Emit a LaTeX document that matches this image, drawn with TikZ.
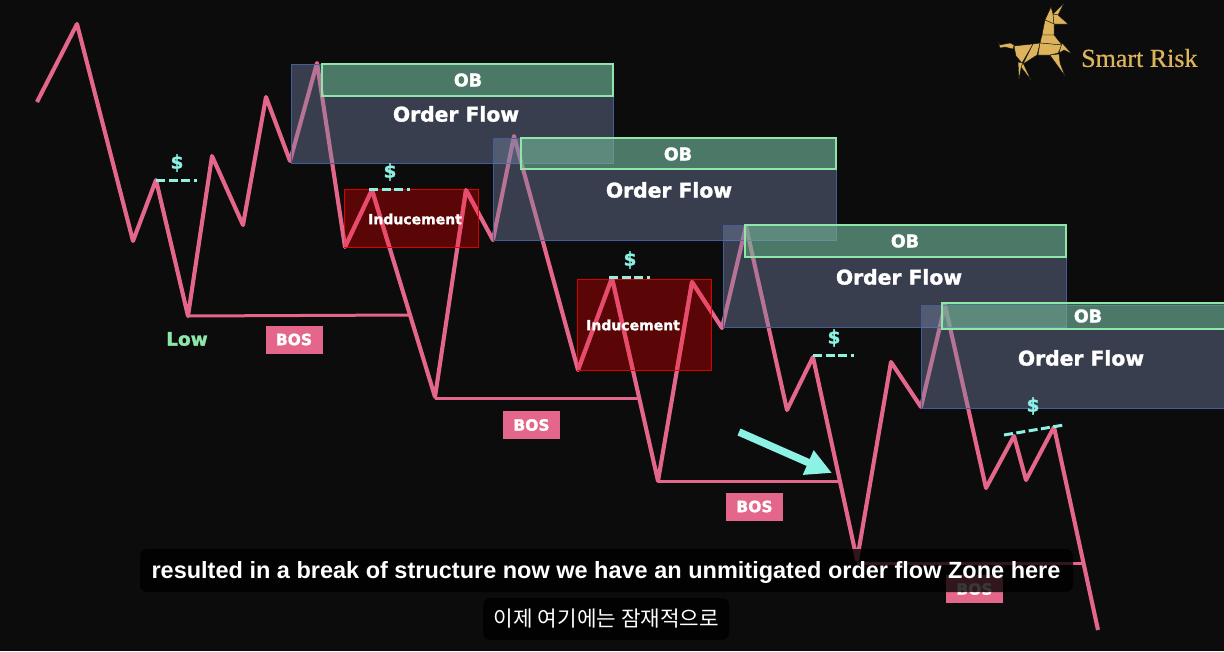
\documentclass[tikz,border=0pt]{standalone}
\usepackage{fontspec}
\setmainfont{DejaVu Sans}
\newfontfamily\heavy[FakeBold=1.6]{DejaVu Sans Bold}
\newfontfamily\capfont{Liberation Sans Bold}
\newfontfamily\krfont{Noto Sans CJK KR}
\newfontfamily\logofont[FakeBold=.4]{Liberation Serif}
\usetikzlibrary{arrows.meta}
\definecolor{bgc}{HTML}{0C0C0C}
\definecolor{pinkc}{HTML}{E4668A}
\definecolor{pinkred}{HTML}{E84C6C}
\definecolor{cyanc}{HTML}{8CF2E4}
\definecolor{goldc}{HTML}{DDB45C}
\definecolor{blueb}{HTML}{7785A7}
\definecolor{blueedge}{HTML}{445C98}
\definecolor{greenb}{HTML}{6ACB8C}
\definecolor{greenedge}{HTML}{8EE6A8}
\definecolor{redb}{HTML}{C80000}
\newcommand\pricepath{(37,102)--(77,24)--(133,241)--(156,180)--(188,316)--(212,156)--(243,225)--(266,97)--(290,161)--(317,63)--(345,247)--(372,190)--(435,397)--(466,190)--(493,240)--(514,136)--(578,370)--(612,278)--(658,481)--(692,282)--(722,328)--(746,226)--(787,410)--(813,357)--(857,560)--(891,362)--(921,407)--(945,305)--(986,488)--(1014,436)--(1026,480)--(1054,427)--(1098,630)}
\tikzset{
  price/.style={draw=pinkc,line width=4.1pt,line join=round},
  level/.style={draw=pinkc,line width=3pt},
  ofbox/.style={draw=blueedge,line width=1pt,fill=blueb,fill opacity=.42},
  obbox/.style={draw=greenedge,line width=1.2pt,fill=greenb,fill opacity=.42},
  indbox/.style={draw=red!85!black,line width=1pt,fill=redb,fill opacity=.42},
  oftext/.style={text=white,font=\heavy\fontsize{20.3}{22}\selectfont,inner sep=0pt},
  obtext/.style={text=white,font=\heavy\fontsize{17.5}{18}\selectfont,inner sep=0pt},
  indtext/.style={text=white,font=\heavy\fontsize{14}{16}\selectfont,inner sep=0pt},
  bostag/.style={fill=pinkc,text=white,font=\heavy\fontsize{15.5}{16}\selectfont,minimum width=57pt,minimum height=28pt,inner sep=0pt},
  dollar/.style={text=cyanc,font=\heavy\fontsize{18.5}{18}\selectfont,inner sep=0pt},
  dashl/.style={draw=cyanc,line width=3pt,dash pattern=on 9pt off 3.5pt},
  logoa/.style={fill=goldc,draw=bgc,line width=.35pt,line join=round},
}
\begin{document}
\begin{tikzpicture}[x=1pt,y=-1pt]
\useasboundingbox (0,0) rectangle (1224,651);
\fill[bgc] (0,0) rectangle (1224,651);
% price path
\draw[price] \pricepath;
% levels
\draw[level] (188,316)--(410,315);
\draw[level] (435,398)--(638,398);
\draw[level] (658,481)--(840,481);
\draw[level] (857,563)--(1084,563);
% inducement boxes
\draw[indbox] (344,189) rectangle (478,247);
\draw[indbox] (577,279) rectangle (711,370);
\begin{scope}
\clip (344,189) rectangle (478,247) (577,279) rectangle (711,370);
\draw[price,draw=pinkred] \pricepath;
\end{scope}
\node[indtext] (ind1) at (415,219) {Inducement};
\node[indtext] (ind2) at (633,325) {Inducement};
% order flow zones
\draw[ofbox] (291,64) rectangle (613,163);
\draw[obbox] (322,64) rectangle (613,96);
\node[obtext] (ob1) at (468,80) {OB};
\node[oftext] (of1) at (456,114) {Order Flow};
\draw[ofbox] (493,138) rectangle (836,240);
\draw[obbox] (521,138) rectangle (836,169);
\node[obtext] (ob2) at (678,154) {OB};
\node[oftext] (of2) at (669,190) {Order Flow};
\draw[ofbox] (723,225) rectangle (1066,327);
\draw[obbox] (745,225) rectangle (1066,257);
\node[obtext] (ob3) at (905,241) {OB};
\node[oftext] (of3) at (899,277) {Order Flow};
\draw[ofbox] (921,305) rectangle (1230,408);
\draw[obbox] (942,303) rectangle (1230,329);
\node[obtext] (ob4) at (1088,316) {OB};
\node[oftext] (of4) at (1081,358) {Order Flow};
% liquidity
\node[dollar] (d1) at (177,163) {\$};
\draw[dashl] (156,180)--(197,180);
\node[dollar] (d2) at (390,172) {\$};
\draw[dashl] (369,189)--(410,189);
\node[dollar] (d3) at (630,260) {\$};
\draw[dashl] (609,277)--(650,277);
\node[dollar] (d4) at (834,338) {\$};
\draw[dashl] (813,355)--(854,355);
\node[dollar] (d5) at (1033,406) {\$};
\draw[dashl] (1004,435)--(1064,425);
% labels
\node[text=greenedge,font=\heavy\fontsize{18.5}{18}\selectfont,inner sep=0pt] (low) at (187,339) {Low};
\node[bostag] (b1) at (294,339.5) {BOS};
\node[bostag] (b2) at (531.5,425) {BOS};
\node[bostag] (b3) at (754.5,506.5) {BOS};
\node[bostag] (b4) at (974.5,589) {BOS};
% arrow
\coordinate (as) at (739,432);
\coordinate (ae) at (832,473);
\draw[cyanc,line width=7.5pt,-{Triangle[length=26pt,width=25pt]}] (as)--(ae);
% logo
\fill[logoa] (1051,7)--(1045,20)--(1054,24)--(1053,14)--cycle;
\fill[logoa] (1053,14)--(1064,3)--(1058,15)--cycle;
\fill[logoa] (1053,14)--(1058,15)--(1068,24)--(1054,24)--cycle;
\fill[logoa] (1045,20)--(1054,24)--(1054,35)--(1042,35)--cycle;
\fill[logoa] (1042,35)--(1054,35)--(1062,45)--(1040,43)--cycle;
\fill[logoa] (1014,46)--(1033,44)--(1022,63)--(1016,56)--cycle;
\fill[logoa] (1033,44)--(1040,43)--(1037,55)--(1023,64)--cycle;
\fill[logoa] (1040,43)--(1062,45)--(1058,53)--(1050,55)--(1038,55)--cycle;
\fill[logoa] (1062,43)--(1072,54)--(1064,50)--(1059,53)--cycle;
\fill[logoa] (1050,55)--(1059,54)--(1060,63)--(1065,76)--(1052,58)--cycle;
\fill[logoa] (1018,62)--(1023,63)--(1021,68)--(1019,79)--cycle;
\fill[logoa] (1021,67)--(1023,63)--(1031,80)--cycle;
\fill[logoa] (998,42)--(1000,45)--(1010,43)--(1014,45)--(1013,49)--(1005,47)--(1000,48)--cycle;
\node[text=goldc,font=\logofont\fontsize{26}{28}\selectfont,inner sep=0pt,anchor=west] (logo) at (1081,58) {Smart Risk};
% captions
\fill[black,fill opacity=.78,rounded corners=7pt] (140,549) rectangle (1073,592);
\node[text=white,font=\capfont\fontsize{23.5}{26}\selectfont,inner sep=0pt] (cap1) at (606,572) {resulted in a break of structure now we have an unmitigated order flow Zone here};
\fill[black,fill opacity=.78,rounded corners=7pt] (483,598) rectangle (729,640);
\node[text=white,font=\krfont\fontsize{21.3}{24}\selectfont,inner sep=0pt] (cap2) at (606.5,619) {이제 여기에는 잠재적으로};
\end{tikzpicture}
\end{document}
